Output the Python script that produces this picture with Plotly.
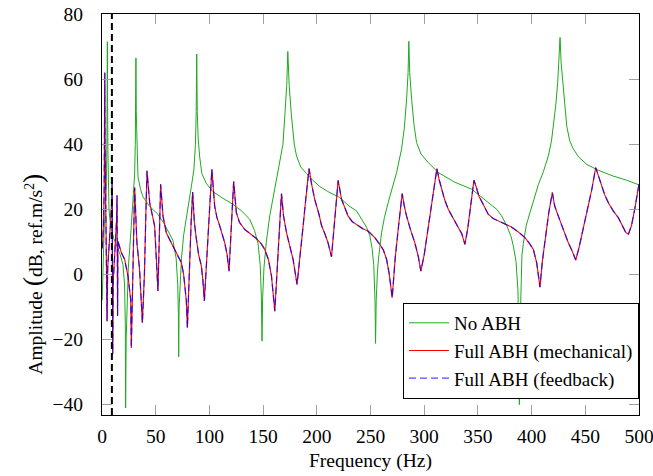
import plotly.graph_objects as go

# ---------------- data ----------------
freq_no_abh = [0.2, 1.0, 2.0, 3.0, 4.0, 4.6, 4.9, 5.0, 5.15, 5.5, 6.2, 6.5, 8, 11, 14, 17, 19.5, 21, 21.7, 22,
               22.5, 23.3, 24.5, 27.3, 29.5, 30.4, 31.0, 31.4, 31.6, 31.9, 32.5, 33.5, 36, 38, 44, 52, 58, 62, 66,
               69, 70.5, 71.1, 71.4, 71.8, 72.8, 74, 76, 78.6, 81, 83.2, 85.5, 87, 87.7, 88.2, 88.7, 89.5, 91, 93,
               97, 103, 112, 122, 130, 137.6, 142, 145.3, 147.3, 148.4, 149, 149.6, 150.8, 153, 156.2, 159, 162.4,
               165.5, 168.5, 170.2, 172, 173, 174.3, 176.4, 179, 181.1, 185, 190.4, 196, 202.8, 210, 221.4, 230,
               237, 242, 246.3, 249.4, 251.5, 253, 254.2, 254.7, 255.3, 256.5, 257.5, 260.3, 263, 266.4, 270,
               274.3, 278.9, 281.5, 283.6, 285, 285.7, 286.5, 288.3, 290.5, 292.9, 297, 303.7, 313, 328, 344, 352,
               360, 367.5, 372, 376.8, 381, 383, 385.5, 387.3, 388.2, 388.6, 389, 390, 391, 392.3, 395, 398.5, 402,
               406.2, 410.9, 415.6, 418.5, 420.2, 422.5, 424.3, 425.5, 426.5, 427.5, 429, 430.8, 432.7, 435.5,
               438.9, 444, 451.3, 462, 476, 488, 500]
amp_no_abh = [-8, 5, 14, 20, 28, 40, 55, 71.5, 55, 38, 27, 20, 15, 11, 8.5, 6, 3, -3, -15, -41,
              -20, -8, 2, 15, 25, 31, 40, 52, 66.5, 50, 38, 30, 26, 24, 21, 18.5, 15.5, 13, 10.5,
              5, -3, -12, -25.3, -10, -1, 5, 12, 18, 23, 27, 32, 40, 50, 67.7, 50, 42, 36, 31,
              28, 25.5, 23.5, 21.5, 19.5, 16.9, 13.5, 9.5, 3, -7, -20.5, -7, 2, 10, 18, 23, 28.5,
              35, 40, 48.7, 58, 68.5, 58, 48.7, 40, 36.4, 33, 31, 29, 27, 25.5, 23.6, 21,
              19.5, 17, 14.5, 11.8, 8, 3, -8, -21.2, -8, 1, 5, 12.8, 17.5, 22, 26.5,
              31.3, 38.5, 45, 53.8, 62, 71.6, 62, 53.8, 46, 40.5, 37, 34.4, 31.3, 28.4, 26.2, 24.1,
              22, 20, 18, 15, 11.5, 8.7, 4, -5, -20, -40, -20, -3, 6, 9.5, 15, 19, 23,
              27.5, 31.5, 36.4, 41, 45.6, 52, 59, 65, 72.8, 65, 59, 52, 45.6, 41,
              38.5, 36, 33.8, 32, 30.2, 29, 27.5]

freq_abh = [0.3, 1.2, 2.0, 2.4, 2.6, 2.9, 3.5, 4.2, 4.7, 5.3, 6.5, 8, 9.0, 9.4, 9.7, 10.0, 10.5, 11.5, 12.8,
            13.6, 14.0, 14.3, 14.5, 14.8, 18, 21.1, 24.2, 26.7, 27.3, 28.5, 29.6, 30.4, 32.5, 35, 37.6, 39.5,
            40.8, 41.9, 44.4, 49, 52.1, 53.5, 54.6, 56.8, 59.9, 64, 67.7, 71, 73.9, 76, 77, 78.5, 79.5, 81, 83,
            84.4, 86, 87.9, 90, 92.5, 94, 95.3, 97.5, 100, 102.3, 104.9, 107, 109.6, 114.3, 116.5, 118.3, 120,
            122.6, 125.1, 128, 132.9, 138, 143.8, 148, 151.5, 155, 157.8, 160.9, 163.5, 167.1, 169, 171.8, 175,
            177.9, 181.6, 184, 187, 190, 192.8, 195, 198.1, 202, 204.4, 207.5, 210.5, 213.7, 216.5, 219.9, 223,
            226, 229.2, 233, 238.5, 243, 247.8, 250, 254, 258.7, 262, 265, 267.5, 270.2, 273, 276.5, 279.5,
            281.5, 283.6, 287, 291.3, 294.5, 296.9, 300, 303, 306.5, 309.5, 311.8, 314, 316.2, 319, 322.4, 327,
            331.7, 335, 337.9, 340.5, 343.5, 346.3, 348.3, 351, 355, 359.6, 364, 369, 375, 379.9, 381, 387,
            393.8, 398, 401.6, 404.7, 406.5, 407.8, 410, 413, 416, 419.3, 421.5, 424.9, 429, 434.2, 438, 441.1,
            444, 448, 452, 456, 459.7, 462, 465.3, 468, 471.5, 476, 480.8, 484, 487.5, 490.1, 493, 496, 500]
amp_mech = [8, 14, 25, 40, 62, 40, 20, 5, -14.4, 2, 10, 16, 22, 29.7, 5, -24.5, -2, 6, 12,
            17, 24.3, 5, -12.8, 10.2, 6.7, 4.6, -0.5, -7.7, -22.6, 0, 18, 26.7, 9.7, 1.5, -14.9, 0,
            18, 31.8, 22, 14.9, -5.1, 12, 27.7, 17.9, 12.8, 10, 7.7, 5.5, 3.6, 0, -2.6, -8, -16.4, 0, 16,
            25.3, 16, 10.8, 6, 2.6, -2, -8.2, 5, 18, 32.3, 21, 17.5, 14.9, 9.7, 6, 1, 12,
            28.5, 19, 16, 13.8, 12.5, 11, 9.5, 7.7, 4.5, -0.5, -11.3, 5, 24.8, 18, 12.8, 8.5,
            4.6, -3.1, 4, 14, 24, 32.5, 28, 23, 18.5, 15, 12.5, 9.7, 5.4, 15, 28.9, 23.1,
            20.5, 17.9, 16.2, 14.9, 14, 13.3, 12.5, 11.3, 9.2, 7.5, 4.6, 0, -7.2, 5, 16, 24.8,
            21, 17.9, 14, 9.7, 5.5, 1, 6, 13, 20, 27, 32.5, 29, 26.2, 23, 20, 17,
            14.4, 12.5, 9.2, 14, 22, 28.9, 27, 24, 21.5, 18.5, 17.2, 16.4, 15.5, 14.9, 14.6, 13.2,
            11.3, 9.5, 7.7, 3.6, -0.5, -3.9, 4, 12, 19, 25.1, 21, 17.9, 14, 9.7, 7, 4.4,
            8, 14, 20, 26, 32.8, 30.5, 27.2, 24.5, 22, 19.5, 17.4, 15.5, 13, 12.3, 15, 20, 27.7]
amp_feedback = [8, 14, 25, 40, 62, 40, 20, 5, -14.4, 2, 10, 16, 22, 29.7, 5, -24.5, -2, 6, 12,
                17, 24.3, 5, -12.8, 10.2, 6.7, 4.6, -0.5, -7.7, -22.6, 0, 18, 26.7, 9.7, 1.5, -14.9, 0,
                18, 31.8, 22, 14.9, -5.1, 12, 27.7, 17.9, 12.8, 10, 7.7, 5.5, 3.6, 0, -2.6, -8, -16.4, 0, 16,
                25.3, 16, 10.8, 6, 2.6, -2, -8.2, 5, 18, 32.3, 21, 17.5, 14.9, 9.7, 6, 1, 12,
                28.5, 19, 16, 13.8, 12.5, 11, 9.5, 7.7, 4.5, -0.5, -11.3, 5, 24.8, 18, 12.8, 8.5,
                4.6, -3.1, 4, 14, 24, 32.5, 28, 23, 18.5, 15, 12.5, 9.7, 5.4, 15, 28.9, 23.1,
                20.5, 17.9, 16.2, 14.9, 14, 13.3, 12.5, 11.3, 9.2, 7.5, 4.6, 0, -7.2, 5, 16, 24.8,
                21, 17.9, 14, 9.7, 5.5, 1, 6, 13, 20, 27, 32.5, 29, 26.2, 23, 20, 17,
                14.4, 12.5, 9.2, 14, 22, 28.9, 27, 24, 21.5, 18.5, 17.2, 16.4, 15.5, 14.9, 14.6, 13.2,
                11.3, 9.5, 7.7, 3.6, -0.5, -3.9, 4, 12, 19, 25.1, 21, 17.9, 14, 9.7, 7, 4.4,
                8, 14, 20, 26, 32.8, 30.5, 27.2, 24.5, 22, 19.5, 17.4, 15.5, 13, 12.3, 15, 20, 27.7]

cutoff_freq = 9.2
x_ticks = [0, 50, 100, 150, 200, 250, 300, 350, 400, 450, 500]
y_ticks = [-40, -20, 0, 20, 40, 60, 80]
series_names = ["No ABH", "Full ABH (mechanical)", "Full ABH (feedback)"]

FONT = "Liberation Serif, serif"
FS = 19.5
LFS = 19

fig = go.Figure()
fig.add_trace(go.Scatter(x=freq_no_abh, y=amp_no_abh, mode="lines", name=series_names[0],
                         line=dict(color="rgb(30,170,30)", width=1)))
fig.add_trace(go.Scatter(x=freq_abh, y=amp_mech, mode="lines", name=series_names[1],
                         line=dict(color="rgb(255,0,0)", width=1.1)))
fig.add_trace(go.Scatter(x=freq_abh, y=amp_feedback, mode="lines", name=series_names[2],
                         line=dict(color="rgba(0,0,255,0.7)", width=1.3, dash="7px,4px")))

fig.add_vline(x=cutoff_freq, line=dict(color="black", width=2, dash="7px,4px"))

axis_common = dict(showline=True, linecolor="black", linewidth=1, mirror="ticks",
                   ticks="inside", ticklen=10, tickcolor="#a0a0a0", tickwidth=1,
                   showgrid=False, zeroline=False, automargin=False,
                   ticklabeloverflow="allow",
                   tickfont=dict(family=FONT, size=FS, color="black"))

fig.update_xaxes(range=[0, 500], tickvals=x_ticks, ticklabelstandoff=4, **axis_common)
fig.update_yaxes(range=[-43.2, 80], tickvals=y_ticks, ticklabelstandoff=14, **axis_common)

fig.update_layout(
    width=653, height=476,
    margin=dict(l=102, r=14, t=14, b=61, autoexpand=False),
    paper_bgcolor="white", plot_bgcolor="white",
    font=dict(family=FONT, size=FS, color="black"),
    showlegend=True,
    legend=dict(x=1.0, y=0.04, xanchor="right", yanchor="bottom",
                bgcolor="white", bordercolor="black", borderwidth=1,
                font=dict(family=FONT, size=LFS), tracegroupgap=0, itemwidth=40),
    annotations=[
        dict(text="Frequency (Hz)", xref="paper", yref="paper", x=0.5, y=-0.114,
             xanchor="center", yanchor="middle", showarrow=False,
             font=dict(family=FONT, size=FS)),
        dict(text="Amplitude <span style='font-size:28px'>(</span>dB, ref.m/s<sup>2</sup><span style='font-size:28px'>)</span>",
             xref="paper", yref="paper", x=0, xshift=-69, y=0.35,
             xanchor="center", yanchor="middle", textangle=-90, showarrow=False,
             font=dict(family=FONT, size=FS)),
    ],
)

fig.write_html("out.html")
